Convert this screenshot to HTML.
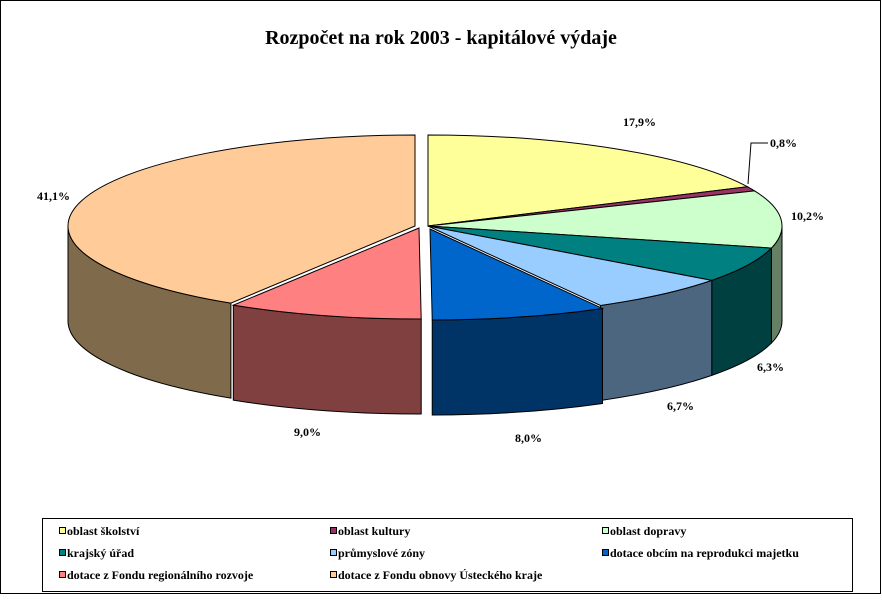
<!DOCTYPE html>
<html><head><meta charset="utf-8"><style>
body{margin:0;background:#fff}
svg text{font-family:"Liberation Serif",serif;font-weight:bold}
</style></head><body>
<svg id="s" width="882" height="595" xmlns="http://www.w3.org/2000/svg">
<rect x="0.5" y="0.5" width="880" height="593" fill="#fff" stroke="#000"/>
<text x="441" y="44" font-size="20" text-anchor="middle">Rozpočet na rok 2003 - kapitálové výdaje</text>
<g id="pie"></g>
<g font-size="12">
<text x="623" y="126">17,9%</text>
<text x="770" y="147">0,8%</text>
<text x="791" y="220">10,2%</text>
<text x="757" y="371">6,3%</text>
<text x="667" y="410">6,7%</text>
<text x="515" y="442">8,0%</text>
<text x="294" y="436">9,0%</text>
<text x="37" y="200">41,1%</text>
</g>
<polyline points="748,184 751,143 768,143" fill="none" stroke="#000"/>
<rect x="42.5" y="518.5" width="810" height="73" fill="#fff" stroke="#000"/>
<g font-size="12" stroke="#000" stroke-width="1">
<rect x="59.5" y="527.5" width="6" height="6" fill="#ffff99"/>
<rect x="330.5" y="527.5" width="6" height="6" fill="#993366"/>
<rect x="602.5" y="527.5" width="6" height="6" fill="#ccffcc"/>
<rect x="59.5" y="549.5" width="6" height="6" fill="#008080"/>
<rect x="330.5" y="549.5" width="6" height="6" fill="#99ccff"/>
<rect x="602.5" y="549.5" width="6" height="6" fill="#0066cc"/>
<rect x="59.5" y="571.5" width="6" height="6" fill="#ff8080"/>
<rect x="330.5" y="571.5" width="6" height="6" fill="#ffcc99"/>
</g>
<g font-size="12">
<text x="67" y="535">oblast školství</text>
<text x="338" y="535">oblast kultury</text>
<text x="610" y="535">oblast dopravy</text>
<text x="67" y="557">krajský úřad</text>
<text x="338" y="557">průmyslové zóny</text>
<text x="610" y="557">dotace obcím na reprodukci majetku</text>
<text x="67" y="579">dotace z Fondu regionálního rozvoje</text>
<text x="338" y="579">dotace z Fondu obnovy Ústeckého kraje</text>
</g>
</svg>
<script>
var ry=91,D=95,g=document.getElementById('pie'),NS='http://www.w3.org/2000/svg';
var sl=[[17.9,'#ffff99','#808050',428,226,354],[0.8,'#993366','#4d1a33',428,226,354],[10.2,'#ccffcc','#668066',428,226,354],[6.3,'#008080','#004040',428,226,354],[6.7,'#99ccff','#4d6680',428,226,354],[8.0,'#0066cc','#003366',430,229,354],[9.0,'#ff8080','#804040',419,228,350],[41.1,'#ffcc99','#806a4c',415,226,347]];
function P(cx,cy,rx,a,dy){a=a*Math.PI/180;return [cx+rx*Math.cos(a),cy+ry*Math.sin(a)+(dy||0)];}
function add(d,f){var p=document.createElementNS(NS,'path');p.setAttribute('d',d);p.setAttribute('fill',f);p.setAttribute('stroke','#000');p.setAttribute('stroke-width','1');g.appendChild(p);}
var a=-90,arr=[];
sl.forEach(function(s){arr.push([a,a+s[0]*3.6,s]);a+=s[0]*3.6;});
arr.forEach(function(t){var s=t[2],rx=s[5],a1=Math.max(t[0],0),a2=Math.min(t[1],180);if(a2<=a1)return;
var p1=P(s[3],s[4],rx,a1),p2=P(s[3],s[4],rx,a2),q2=P(s[3],s[4],rx,a2,D),q1=P(s[3],s[4],rx,a1,D);
add('M'+p1+' A'+rx+','+ry+' 0 0 1 '+p2+' L'+q2+' A'+rx+','+ry+' 0 0 0 '+q1+' Z',s[2]);
});
arr.forEach(function(t){var s=t[2],rx=s[5],p1=P(s[3],s[4],rx,t[0]),p2=P(s[3],s[4],rx,t[1]);var lg=(t[1]-t[0])>180?1:0;
add('M'+s[3]+','+s[4]+' L'+p1+' A'+rx+','+ry+' 0 '+lg+' 1 '+p2+' Z',s[1]);});
</script>
</body></html>
